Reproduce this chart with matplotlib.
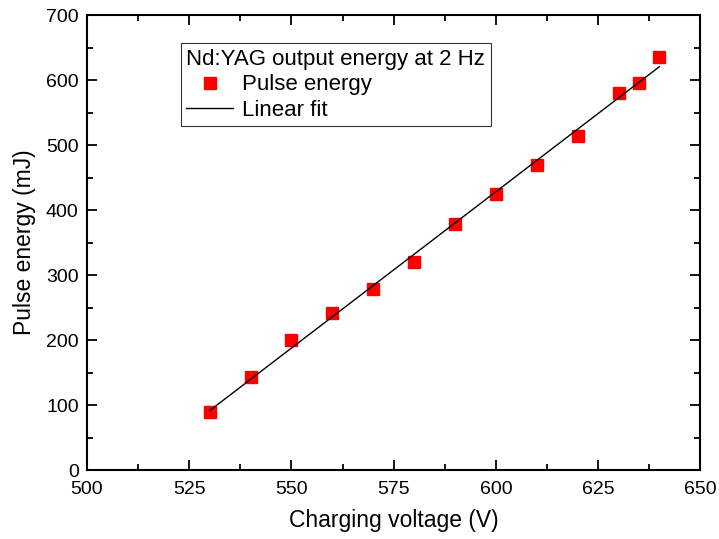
import numpy as np
import matplotlib
matplotlib.use("Agg")
import matplotlib.pyplot as plt
from matplotlib.ticker import MultipleLocator

# -----------------------------
# Data
# -----------------------------
voltage = [530, 540, 550, 560, 570, 580, 590, 600, 610, 620, 630, 635, 640]
energy = [90, 143, 200, 241, 278, 320, 378, 424, 470, 514, 580, 595, 636]

x_ticks = [500, 525, 550, 575, 600, 625, 650]
y_ticks = [0, 100, 200, 300, 400, 500, 600, 700]

plt.rcParams["font.family"] = ["Liberation Sans", "DejaVu Sans"]

# linear fit through the points
slope, intercept = np.polyfit(voltage, energy, 1)
fit_x = np.array([voltage[0], voltage[-1]])
fit_y = slope * fit_x + intercept

fig = plt.figure(figsize=(7.19, 5.39), dpi=100)
ax = fig.add_axes([0.121, 0.128, 0.853, 0.844])

ax.plot(voltage, energy, "s", color="red", markersize=8.5, label="Pulse energy")
ax.plot(fit_x, fit_y, "-", color="black", linewidth=1.0, label="Linear fit")

ax.set_xlim(500, 650)
ax.set_ylim(0, 700)
ax.set_xticks(x_ticks)
ax.set_yticks(y_ticks)
ax.xaxis.set_minor_locator(MultipleLocator(12.5))
ax.yaxis.set_minor_locator(MultipleLocator(50))
ax.tick_params(which="both", direction="in", top=True, right=True, width=1.3)
ax.tick_params(which="major", length=7, labelsize=14)
ax.tick_params(which="minor", length=4)
ax.tick_params(axis="x", which="major", pad=8)
ax.tick_params(axis="y", which="major", pad=6)
for spine in ax.spines.values():
    spine.set_linewidth(1.5)

ax.set_xlabel("Charging voltage (V)", fontsize=16.5, labelpad=8)
ax.set_ylabel("Pulse energy (mJ)", fontsize=16.5, labelpad=7)

leg = ax.legend(title="Nd:YAG output energy at 2 Hz", loc="upper left",
                bbox_to_anchor=(0.153, 0.938), fontsize=16, title_fontsize=16,
                frameon=True, fancybox=False, edgecolor="black",
                borderpad=0.25, labelspacing=0.2, handlelength=2.1,
                handletextpad=0.4, borderaxespad=0, alignment="left")
leg.get_frame().set_linewidth(0.8)

fig.savefig("out.png", dpi=100)
plt.close(fig)
